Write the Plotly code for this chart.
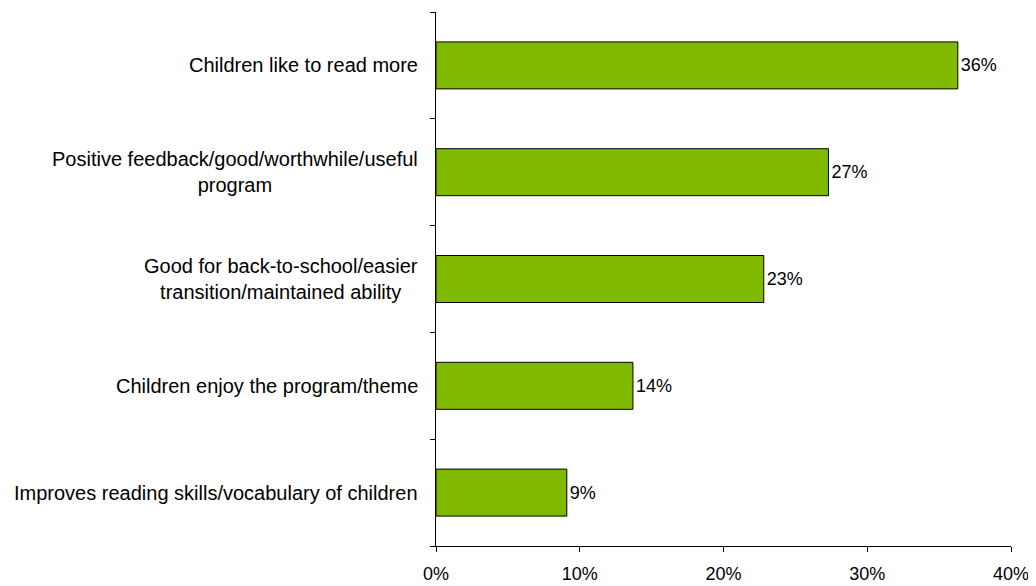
import plotly.graph_objects as go

categories = [
    "Children like to read more",
    "Positive feedback/good/worthwhile/useful<br>program",
    "Good for back-to-school/easier<br>transition/maintained ability",
    "Children enjoy the program/theme",
    "Improves reading skills/vocabulary of children",
]
values = [36.3, 27.3, 22.8, 13.7, 9.1]
labels = ["36%", "27%", "23%", "14%", "9%"]
x_ticks = [0, 10, 20, 30, 40]
x_tick_text = ["0%", "10%", "20%", "30%", "40%"]

FONT = "Liberation Sans, Arial, sans-serif"

fig = go.Figure(
    go.Bar(
        x=values,
        y=list(range(len(categories))),
        orientation="h",
        width=0.44,
        marker=dict(color="#7FBA00", line=dict(color="#000000", width=1)),
        text=labels,
        textposition="outside",
        textfont=dict(family=FONT, size=18, color="#000000"),
        cliponaxis=False,
    )
)

for i, c in enumerate(categories):
    fig.add_annotation(
        x=-0.027, xref="paper", y=i, yref="y",
        text=c, showarrow=False, xanchor="right", yanchor="middle",
        align="center", font=dict(family=FONT, size=20, color="#000000"),
    )

fig.update_layout(
    width=1036, height=586,
    margin=dict(l=428, r=33, t=4, b=48),
    plot_bgcolor="white", paper_bgcolor="white",
    showlegend=False,
    font=dict(family=FONT, size=18, color="#000000"),
    bargap=0.56,
)
fig.update_xaxes(
    range=[0, 40], tickvals=x_ticks, ticktext=x_tick_text,
    showgrid=False, zeroline=False, showline=True, linecolor="#000000", linewidth=1,
    ticks="outside", ticklen=5, tickcolor="#000000", ticklabelstandoff=6,
    tickfont=dict(family=FONT, size=18, color="#000000"),
)
fig.update_yaxes(
    range=[4.5, -0.5], tickvals=[-0.5, 0.5, 1.5, 2.5, 3.5, 4.5], ticktext=[""] * 6,
    showgrid=False, zeroline=False, showline=True, linecolor="#000000", linewidth=1,
    ticks="outside", ticklen=5, tickcolor="#000000",
)

fig.write_html("out.html")
